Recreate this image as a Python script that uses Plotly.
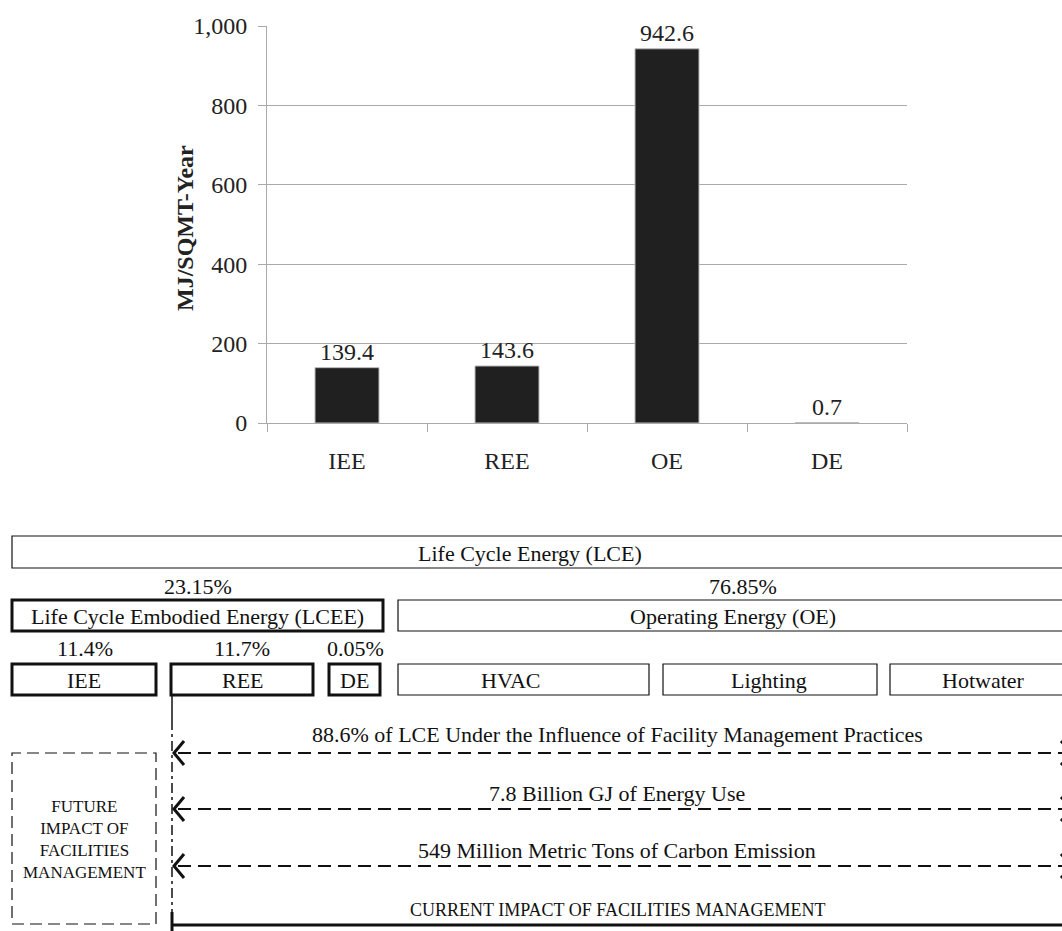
import plotly.graph_objects as go

categories = ["IEE", "REE", "OE", "DE"]
values = [139.4, 143.6, 942.6, 0.7]
value_labels = ["139.4", "143.6", "942.6", "0.7"]
y_ticks = [0, 200, 400, 600, 800, 1000]
y_tick_labels = ["0", "200", "400", "600", "800", "1,000"]

W, H = 1062, 931
FONT = "Liberation Serif"


def px(x):
    return x / W


def py(y):
    return 1 - y / H


fig = go.Figure()
fig.add_trace(go.Bar(
    x=categories, y=values, text=value_labels, textposition="outside",
    textfont=dict(size=24, color="#222", family=FONT),
    marker=dict(color="#202020", line=dict(color="#bbbbbb", width=1)),
    width=0.4, cliponaxis=False,
))

shapes = []
annotations = []


def box(x0, y0, x1, y1, w=1.5, dash="solid"):
    shapes.append(dict(type="rect", xref="paper", yref="paper",
                       x0=px(x0), x1=px(x1), y0=py(y1), y1=py(y0),
                       line=dict(color="#111", width=w, dash=dash),
                       fillcolor="rgba(0,0,0,0)"))


def line(x0, y0, x1, y1, w=1.5, dash="solid"):
    shapes.append(dict(type="line", xref="paper", yref="paper",
                       x0=px(x0), x1=px(x1), y0=py(y0), y1=py(y1),
                       line=dict(color="#111", width=w, dash=dash)))


def path(pts, w=3):
    d = "M " + " L ".join(f"{px(a)},{py(b)}" for a, b in pts)
    shapes.append(dict(type="path", xref="paper", yref="paper", path=d,
                       line=dict(color="#111", width=w)))


def text(x, y, s, size=22):
    annotations.append(dict(x=px(x), y=py(y), xref="paper", yref="paper",
                            text=s, showarrow=False, xanchor="center", yanchor="middle",
                            font=dict(size=size, color="#111", family=FONT)))


# Y axis title
annotations.append(dict(x=px(185), y=py(228), xref="paper", yref="paper",
                        text="<b>MJ/SQMT-Year</b>", showarrow=False, textangle=-90,
                        xanchor="center", yanchor="middle",
                        font=dict(size=24, color="#222", family=FONT)))

# Level 1
box(12, 536, 1070, 568, w=1.2)
text(530, 553, "Life Cycle Energy (LCE)")
text(198, 586, "23.15%")
text(743, 586, "76.85%")
# Level 2
box(12, 600, 383, 631, w=3)
text(197, 616, "Life Cycle Embodied Energy (LCEE)")
box(398, 600, 1070, 631, w=1.2)
text(733, 616, "Operating Energy (OE)")
# Level 3
text(85, 648, "11.4%")
text(242, 648, "11.7%")
text(355, 648, "0.05%")
box(12, 664, 156, 695, w=3)
text(84, 680, "IEE")
box(171, 664, 313, 695, w=3)
text(243, 680, "REE")
box(329, 664, 380, 695, w=3)
text(354, 680, "DE")
box(398, 664, 649, 695, w=1.2)
text(511, 680, "HVAC")
box(663, 664, 877, 695, w=1.2)
text(769, 680, "Lighting")
box(890, 664, 1070, 695, w=1.2)
text(983, 680, "Hotwater")

# Vertical line from REE
line(172, 695, 172, 720, w=1.5)
line(172, 720, 172, 912, w=1.5, dash="10px,4px,3px,4px")
line(172, 912, 172, 931, w=3)
line(172, 925, 1070, 925, w=3)
text(617, 910, "CURRENT IMPACT OF FACILITIES MANAGEMENT", size=18)

# Dashed arrows
arrow_rows = [(753, "88.6% of LCE Under the Influence of Facility Management Practices", 734),
              (809, "7.8 Billion GJ of Energy Use", 793),
              (866, "549 Million Metric Tons of Carbon Emission", 850)]
for yy, s, ty in arrow_rows:
    line(178, yy, 1062, yy, w=2, dash="13px,7px")
    path([(184, yy - 12), (174, yy), (184, yy + 12)])
    path([(1061, yy - 12), (1072, yy), (1061, yy + 12)])
    text(617, ty, s)

# Future box
box(12, 753, 156, 924, w=1.2, dash="12px,6px")
annotations.append(dict(x=px(84), y=py(839), xref="paper", yref="paper",
                        text="FUTURE<br>IMPACT OF<br>FACILITIES<br>MANAGEMENT", showarrow=False,
                        xanchor="center", yanchor="middle", align="center",
                        font=dict(size=17, color="#111", family=FONT)))

fig.update_layout(
    width=W, height=H, margin=dict(l=0, r=0, t=0, b=0, autoexpand=False),
    paper_bgcolor="white", plot_bgcolor="white", showlegend=False,
    font=dict(family=FONT, color="#222"),
    xaxis=dict(domain=[px(267), px(907)], type="category", tickson="boundaries", automargin=False,
               ticks="outside", ticklen=8, tickcolor="#aaaaaa",
               showline=True, linecolor="#aaaaaa", linewidth=1,
               tickfont=dict(size=24, family=FONT, color="#222"), ticklabelstandoff=16),
    yaxis=dict(domain=[py(423), py(26)], range=[0, 1000], tickvals=y_ticks, ticktext=y_tick_labels,
               automargin=False, ticks="outside", ticklen=8, tickcolor="#aaaaaa",
               showline=True, linecolor="#aaaaaa", linewidth=1,
               showgrid=True, gridcolor="#aaaaaa", gridwidth=1, zeroline=False,
               tickfont=dict(size=24, family=FONT, color="#222"), ticklabelstandoff=6),
    shapes=shapes, annotations=annotations,
)

fig.write_html("out.html", config={"displayModeBar": False},
               post_script="document.body.style.margin='0';")
